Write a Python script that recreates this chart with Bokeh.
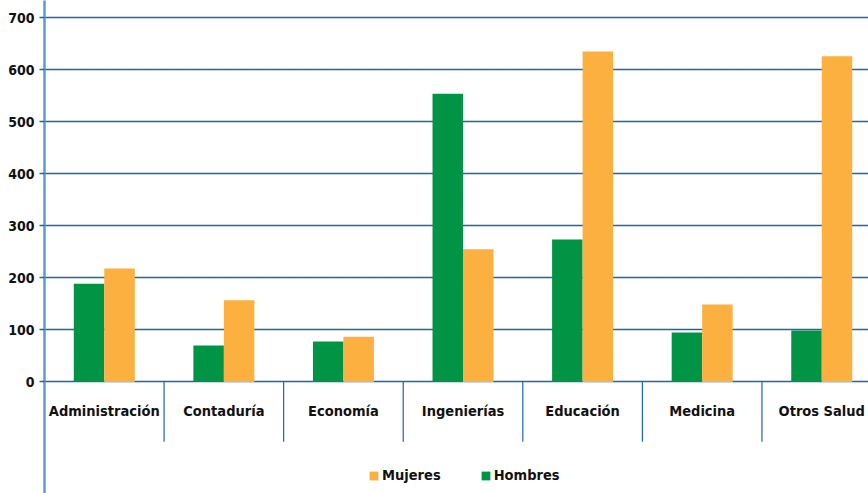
from bokeh.plotting import figure
from bokeh.models import (ColumnDataSource, Range1d, FixedTicker, Legend, LegendItem)
from bokeh.transform import dodge
from bokeh.core.properties import value
from bokeh.embed import file_html
from bokeh.resources import INLINE

# ---- data ----
categories = ["Administración", "Contaduría", "Economía", "Ingenierías",
              "Educación", "Medicina", "Otros Salud"]
hombres = [189, 70, 78, 554, 274, 95, 99]
mujeres = [218, 157, 87, 255, 635, 149, 626]
y_ticks = [0, 100, 200, 300, 400, 500, 600, 700]

FONT = "DejaVu Sans Condensed"
GREEN = "#009444"
ORANGE = "#FBB040"
BLUE = "#1F63AE"
AXIS_BLUE = "#5B9BD5"

xc = [i + 0.5 for i in range(len(categories))]
src = ColumnDataSource(dict(x=xc, cat=categories, h=hombres, m=mujeres,
                            lab_y=[-55] * len(categories)))
sep_x = [i for i in range(1, len(categories))]
sep_src = ColumnDataSource(dict(x=sep_x, y0=[0] * len(sep_x), y1=[-115] * len(sep_x)))

p = figure(width=868, height=493, output_backend="svg", toolbar_location=None,
           x_range=Range1d(0, 6.891), y_range=Range1d(-214.3, 733.2),
           x_axis_type=None, min_border_left=44, min_border_right=0,
           min_border_top=0, min_border_bottom=0)
p.outline_line_color = None
p.background_fill_color = "white"
p.border_fill_color = "white"

p.yaxis.ticker = FixedTicker(ticks=y_ticks)
p.yaxis.axis_line_color = AXIS_BLUE
p.yaxis.axis_line_width = 2.5
p.yaxis.major_tick_line_color = BLUE
p.yaxis.major_tick_line_width = 1.5
p.yaxis.major_tick_out = 5
p.yaxis.major_tick_in = 0
p.yaxis.minor_tick_line_color = None
p.yaxis.major_label_text_font = FONT
p.yaxis.major_label_text_font_style = "bold"
p.yaxis.major_label_text_font_size = "14px"
p.yaxis.major_label_text_color = "#111111"
p.yaxis.major_label_standoff = 5

p.ygrid.ticker = FixedTicker(ticks=y_ticks)
p.ygrid.grid_line_color = BLUE
p.ygrid.grid_line_width = 1.5

rh = p.vbar(x=dodge("x", -0.1275, range=p.x_range), top="h", width=0.255,
            source=src, fill_color=GREEN, line_color=None)
rm = p.vbar(x=dodge("x", 0.1275, range=p.x_range), top="m", width=0.255,
            source=src, fill_color=ORANGE, line_color=None)

p.segment(x0="x", y0="y0", x1="x", y1="y1", source=sep_src,
          line_color=BLUE, line_width=1.2)

p.text(x="x", y="lab_y", text="cat", source=src, text_align="center",
       text_baseline="middle", text_font=value(FONT), text_font_style="bold",
       text_font_size="14.5px", text_color="#111111")

legend = Legend(items=[LegendItem(label="Mujeres", renderers=[rm]),
                       LegendItem(label="Hombres", renderers=[rh])],
                orientation="horizontal", location=(324, 10),
                glyph_width=11, glyph_height=11, label_standoff=3, spacing=39,
                padding=0, margin=0, border_line_color=None,
                background_fill_alpha=0,
                label_text_font=FONT, label_text_font_style="bold",
                label_text_font_size="14.5px", label_text_color="#111111")
p.add_layout(legend)

open("out.html", "w").write(file_html(p, INLINE))
